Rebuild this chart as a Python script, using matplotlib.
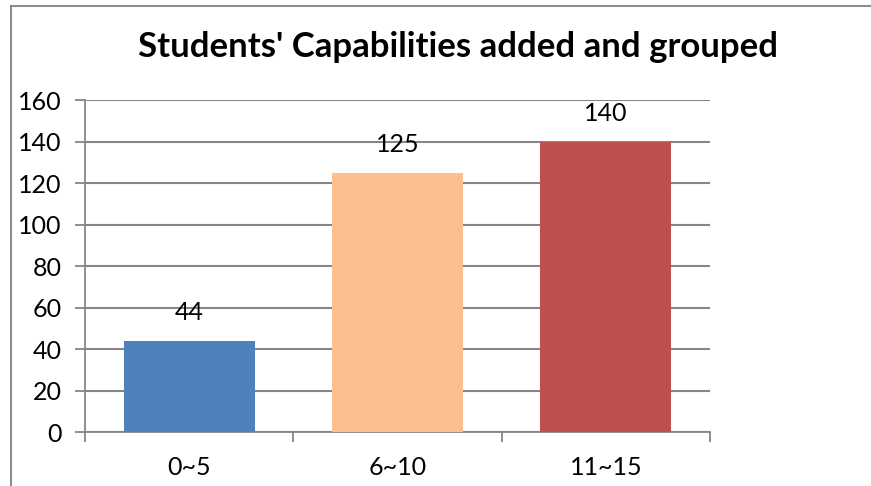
import matplotlib.pyplot as plt
from matplotlib.lines import Line2D
from matplotlib.ticker import FixedLocator

# grouped capability totals
groups = ['0~5', '6~10', '11~15']
totals = [44, 125, 140]
bar_colors = ['#4F81BD', '#FAC090', '#C0504D']
y_ticks = [0, 20, 40, 60, 80, 100, 120, 140, 160]

plt.rcParams['font.family'] = ['Lato', 'DejaVu Sans']

fig = plt.figure(figsize=(8.71, 4.86), dpi=100)
ax = fig.add_axes([0.0976, 0.1111, 0.7176, 0.6831])

x = list(range(len(groups)))
bars = ax.bar(x, totals, width=0.63, color=bar_colors, zorder=3)

for rect, val in zip(bars, totals):
    ax.annotate(str(val), (rect.get_x() + rect.get_width() / 2, val),
                xytext=(0, 12), textcoords='offset points',
                ha='center', va='bottom', fontsize=18)

ax.set_xlim(-0.5, len(groups) - 0.5)
ax.set_ylim(0, 160)
ax.set_yticks(y_ticks)
ax.set_xticks(x)
ax.set_xticklabels(groups)
ax.xaxis.set_minor_locator(FixedLocator([i - 0.5 for i in range(len(groups) + 1)]))

grey = '#868686'
ax.yaxis.grid(True, color=grey, linewidth=1.5, zorder=0)
ax.tick_params(axis='y', length=7, width=1.3, color=grey, labelsize=18, pad=10)
ax.tick_params(axis='x', which='major', length=0, labelsize=18, pad=17)
ax.tick_params(axis='x', which='minor', length=7, width=1.3, color=grey)

for side in ['top', 'right']:
    ax.spines[side].set_visible(False)
for side in ['left', 'bottom']:
    ax.spines[side].set_color(grey)
    ax.spines[side].set_linewidth(1.3)

fig.text(0.526, 0.903, "Students' Capabilities added and grouped",
         ha='center', va='center', fontsize=25, fontweight='bold')

# outer chart frame (cut off at right and bottom)
fig.add_artist(Line2D([11 / 871, 11 / 871], [0, 1 - 6 / 486],
                      transform=fig.transFigure, color='#8c8c8c', lw=1.5))
fig.add_artist(Line2D([11 / 871, 1], [1 - 6 / 486, 1 - 6 / 486],
                      transform=fig.transFigure, color='#8c8c8c', lw=1.5))

fig.savefig('out.png', dpi=100)
